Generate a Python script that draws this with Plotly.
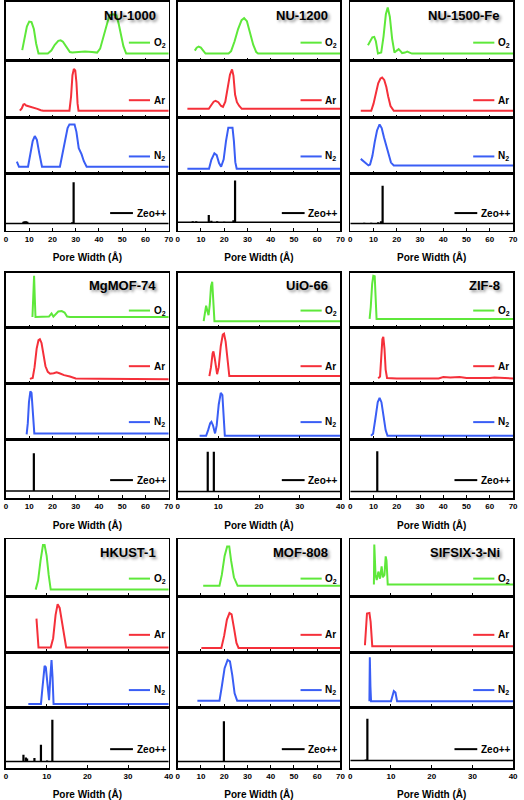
import plotly.graph_objects as go

# ---------------- data (relative PSD) ----------------
MATERIALS = ["NU-1000", "NU-1200", "NU-1500-Fe", "MgMOF-74", "UiO-66", "ZIF-8",
             "HKUST-1", "MOF-808", "SIFSIX-3-Ni"]
X_MAX = [70, 70, 70, 70, 40, 70, 40, 70, 40]
SERIES = ["O<sub>2</sub>", "Ar", "N<sub>2</sub>", "Zeo++"]

# NU-1000
NU1000_O2_X = [7.0, 8.0, 9.0, 10.0, 11.0, 12.0, 13.0, 14.0, 18.0, 19.5, 21.0, 22.5, 23.5, 24.5, 26.0, 27.5, 28.5,
               31.0, 34.0, 37.0, 39.2, 40.5, 42.0, 43.5, 44.5, 46.0, 47.5, 48.5, 49.5, 50.5, 51.7, 70.0]
NU1000_O2_Y = [0.07, 0.30, 0.55, 0.65, 0.64, 0.50, 0.20, 0.00, 0.00, 0.06, 0.18, 0.26, 0.27, 0.24, 0.13, 0.03, 0.02,
               0.03, 0.04, 0.03, 0.02, 0.10, 0.35, 0.65, 0.78, 0.80, 0.78, 0.60, 0.35, 0.15, 0.00, 0.00]
NU1000_AR_X = [6.0, 6.8, 7.5, 8.0, 8.7, 9.5, 10.5, 11.5, 12.5, 13.5, 15.0, 16.0, 27.3, 28.0, 28.6, 29.2, 29.8,
               30.3, 30.8, 31.2, 70.0]
NU1000_AR_Y = [0.0, 0.05, 0.13, 0.14, 0.11, 0.10, 0.08, 0.07, 0.05, 0.04, 0.01, 0.0, 0.0, 0.3, 0.75, 0.88, 0.85,
               0.6, 0.15, 0.0, 0.0]
NU1000_N2_X = [4.7, 5.6, 9.5, 10.5, 11.5, 12.4, 13.3, 14.3, 15.5, 23.2, 24.5, 25.5, 26.5, 27.3, 29.5, 30.3, 31.3,
               32.5, 33.5, 34.7, 70.0]
NU1000_N2_Y = [0.11, 0.0, 0.0, 0.25, 0.55, 0.66, 0.58, 0.3, 0.0, 0.0, 0.3, 0.6, 0.83, 0.91, 0.91, 0.75, 0.4,
               0.27, 0.12, 0.0, 0.0]
NU1000_ZEO_X = [7.5, 8.0, 8.7, 9.2, 28.5, 29.1]
NU1000_ZEO_H = [0.04, 0.05, 0.05, 0.04, 0.03, 0.87]
NU1000_ZEO_BASE = 0.0

# NU-1200
NU1200_O2_X = [7.4, 8.2, 9.0, 10.0, 11.0, 12.0, 21.9, 23.0, 24.5, 26.0, 27.5, 28.6, 29.8, 31.0, 32.5, 33.8, 34.6, 70.0]
NU1200_O2_Y = [0.06, 0.12, 0.14, 0.12, 0.06, 0.0, 0.0, 0.05, 0.25, 0.5, 0.68, 0.72, 0.66, 0.45, 0.18, 0.03, 0.0, 0.0]
NU1200_AR_X = [4.2, 13.4, 14.5, 15.5, 16.3, 17.5, 18.7, 19.5, 20.5, 21.5, 22.5, 23.4, 24.0, 24.7, 25.5, 26.5, 27.6, 70.0]
NU1200_AR_Y = [0.04, 0.04, 0.12, 0.19, 0.21, 0.18, 0.10, 0.08, 0.19, 0.49, 0.76, 0.87, 0.74, 0.34, 0.18, 0.10, 0.04, 0.04]
NU1200_N2_X = [4.2, 13.5, 14.5, 15.8, 16.8, 17.8, 18.7, 19.8, 20.8, 21.8, 23.6, 24.2, 24.8, 25.4, 70.0]
NU1200_N2_Y = [-0.04, -0.04, 0.15, 0.29, 0.25, 0.08, 0.0, 0.16, 0.55, 0.84, 0.84, 0.55, 0.1, -0.04, -0.04]
NU1200_ZEO_X = [6.5, 8.0, 13.4, 14.5, 17.0, 20.0, 24.0, 24.7]
NU1200_ZEO_H = [0.05, 0.05, 0.18, 0.06, 0.05, 0.04, 0.07, 0.91]
NU1200_ZEO_BASE = 0.03

# NU-1500-Fe
NU1500_O2_X = [7.6, 8.5, 9.5, 10.3, 11.0, 11.9, 13.3, 14.3, 15.3, 16.1, 17.0, 18.0, 19.0, 20.0, 20.8, 21.6, 22.3,
               23.5, 24.5, 25.5, 26.5, 70.0]
NU1500_O2_Y = [0.17, 0.25, 0.33, 0.34, 0.25, 0.0, 0.02, 0.35, 0.8, 0.94, 0.75, 0.3, 0.02, 0.06, 0.09, 0.05, 0.01,
               0.02, 0.04, 0.02, 0.0, 0.0]
NU1500_AR_X = [4.5, 9.0, 10.0, 11.0, 12.0, 13.0, 13.7, 14.6, 15.5, 16.3, 17.3, 18.7, 70.0]
NU1500_AR_Y = [0.0, 0.0, 0.15, 0.38, 0.58, 0.68, 0.7, 0.65, 0.5, 0.3, 0.1, 0.0, 0.0]
NU1500_N2_X = [4.5, 5.5, 6.5, 7.8, 8.5, 9.5, 10.5, 11.5, 12.6, 13.5, 14.5, 15.5, 16.5, 17.5, 18.7, 70.0]
NU1500_N2_Y = [0.17, 0.13, 0.08, 0.03, 0.05, 0.23, 0.53, 0.78, 0.91, 0.83, 0.63, 0.43, 0.23, 0.09, 0.03, 0.03]
NU1500_ZEO_X = [6.0, 9.0, 12.0, 13.2, 13.9]
NU1500_ZEO_H = [0.02, 0.02, 0.03, 0.05, 0.8]
NU1500_ZEO_BASE = 0.0

# MgMOF-74
MGMOF_O2_X = [11.4, 11.8, 12.1, 12.4, 12.7, 18.5, 19.6, 20.4, 21.3, 22.5, 24.0, 25.2, 26.3, 27.5, 70.0]
MGMOF_O2_Y = [0.08, 0.5, 0.98, 0.5, 0.08, 0.09, 0.16, 0.09, 0.14, 0.2, 0.21, 0.18, 0.09, 0.08, 0.08]
MGMOF_AR_X = [10.3, 11.5, 12.3, 13.2, 14.0, 14.6, 15.3, 16.2, 17.0, 18.0, 19.0, 20.5, 21.8, 23.0, 25.0, 27.5, 30.0,
              40.0, 70.0]
MGMOF_AR_Y = [-0.05, -0.03, 0.2, 0.6, 0.78, 0.8, 0.72, 0.45, 0.22, 0.1, 0.06, 0.07, 0.09, 0.07, 0.03, 0.0, -0.04,
              -0.05, -0.06]
MGMOF_N2_X = [8.9, 9.4, 9.9, 10.5, 11.0, 11.5, 11.9, 12.2, 70.0]
MGMOF_N2_Y = [-0.04, 0.2, 0.65, 0.88, 0.85, 0.5, 0.05, -0.02, -0.02]
MGMOF_ZEO_X = [12.0]
MGMOF_ZEO_H = [0.77]
MGMOF_ZEO_BASE = 0.0

# UiO-66
UIO_O2_X = [6.4, 6.7, 7.0, 7.3, 7.6, 7.9, 8.2, 8.5, 8.75, 9.05, 40.0]
UIO_O2_Y = [-0.01, 0.15, 0.33, 0.22, 0.12, 0.35, 0.75, 0.85, 0.5, -0.01, -0.01]
UIO_AR_X = [7.8, 8.2, 8.6, 8.8, 9.1, 9.4, 9.7, 10.1, 10.6, 11.1, 11.4, 11.8, 12.2, 12.7, 40.0]
UIO_AR_Y = [0.01, 0.2, 0.5, 0.54, 0.4, 0.15, 0.05, 0.2, 0.65, 0.9, 0.92, 0.75, 0.35, 0.01, 0.01]
UIO_N2_X = [5.4, 7.0, 7.5, 8.0, 8.3, 8.7, 9.2, 9.6, 10.1, 10.6, 11.0, 11.3, 11.6, 40.0]
UIO_N2_Y = [-0.07, -0.07, 0.05, 0.2, 0.23, 0.15, -0.02, 0.15, 0.6, 0.85, 0.8, 0.3, -0.07, -0.07]
UIO_ZEO_X = [7.4, 8.9]
UIO_ZEO_H = [0.8, 0.8]
UIO_ZEO_BASE = -0.01

# ZIF-8
ZIF_O2_X = [8.3, 8.8, 9.4, 9.9, 10.5, 10.9, 11.3, 70.0]
ZIF_O2_Y = [0.04, 0.3, 0.8, 0.98, 0.97, 0.5, 0.04, 0.04]
ZIF_AR_X = [12.0, 12.8, 13.3, 13.8, 14.2, 14.7, 15.2, 15.8, 20.0, 38.0, 40.0, 43.0, 47.0, 50.0, 60.0, 62.0, 70.0]
ZIF_AR_Y = [-0.04, 0.0, 0.4, 0.8, 0.85, 0.6, 0.15, -0.03, -0.04, -0.04, -0.01, -0.02, -0.01, -0.03, -0.03, -0.02, -0.04]
ZIF_N2_X = [8.9, 9.8, 10.8, 11.8, 12.6, 13.4, 14.3, 15.2, 16.0, 70.0]
ZIF_N2_Y = [-0.07, -0.03, 0.3, 0.65, 0.74, 0.65, 0.35, 0.05, -0.07, -0.07]
ZIF_ZEO_X = [11.6]
ZIF_ZEO_H = [0.81]
ZIF_ZEO_BASE = -0.01

# HKUST-1
HKUST_O2_X = [7.3, 7.9, 8.5, 9.1, 9.5, 10.0, 10.5, 11.0, 40.0]
HKUST_O2_Y = [-0.01, 0.18, 0.6, 0.93, 0.93, 0.7, 0.3, -0.01, -0.01]
HKUST_AR_X = [7.5, 7.8, 8.0, 11.0, 11.6, 12.2, 12.7, 13.2, 13.8, 14.3, 14.8, 40.0]
HKUST_AR_Y = [0.57, 0.2, -0.05, -0.05, 0.15, 0.65, 0.88, 0.8, 0.5, 0.2, -0.05, -0.05]
HKUST_N2_X = [5.5, 8.6, 9.0, 9.5, 9.8, 10.2, 10.6, 10.9, 11.2, 11.45, 11.7, 40.0]
HKUST_N2_Y = [-0.08, -0.08, 0.3, 0.75, 0.72, 0.35, 0.0, 0.5, 0.88, 0.5, -0.08, -0.08]
HKUST_ZEO_X = [4.3, 4.9, 5.2, 7.0, 8.6, 10.1, 11.4]
HKUST_ZEO_H = [0.11, 0.06, 0.04, 0.05, 0.31, 0.0, 0.80]
HKUST_ZEO_BASE = -0.02

# MOF-808
MOF808_O2_X = [11.0, 18.0, 19.0, 20.2, 21.3, 22.2, 23.0, 24.2, 25.8, 70.0]
MOF808_O2_Y = [0.07, 0.07, 0.3, 0.7, 0.9, 0.9, 0.6, 0.25, 0.07, 0.07]
MOF808_AR_X = [10.2, 18.8, 20.0, 21.2, 22.3, 23.2, 24.3, 25.3, 26.2, 70.0]
MOF808_AR_Y = [-0.06, -0.06, 0.2, 0.55, 0.69, 0.66, 0.35, 0.05, -0.06, -0.06]
MOF808_N2_X = [8.5, 18.0, 19.0, 20.2, 21.5, 22.5, 23.5, 24.5, 25.6, 70.0]
MOF808_N2_Y = [-0.01, -0.01, 0.3, 0.7, 0.88, 0.85, 0.55, 0.15, -0.01, -0.01]
MOF808_ZEO_X = [19.9]
MOF808_ZEO_H = [0.77]
MOF808_ZEO_BASE = -0.02

# SIFSIX-3-Ni
SIFSIX_O2_X = [5.8, 5.9, 6.2, 6.5, 6.9, 7.3, 7.7, 8.0, 8.4, 8.7, 8.9, 9.2, 40.0]
SIFSIX_O2_Y = [0.1, 0.94, 0.3, 0.19, 0.37, 0.22, 0.48, 0.25, 0.3, 0.69, 0.6, 0.1, 0.1]
SIFSIX_AR_X = [3.6, 3.8, 4.1, 4.7, 5.0, 5.4, 40.0]
SIFSIX_AR_Y = [0.0, 0.4, 0.68, 0.69, 0.5, -0.02, -0.02]
SIFSIX_N2_X = [4.7, 4.8, 4.95, 5.1, 10.0, 10.4, 10.7, 11.1, 11.5, 40.0]
SIFSIX_N2_Y = [-0.02, 0.94, 0.3, -0.02, -0.02, 0.15, 0.2, 0.17, -0.02, -0.02]
SIFSIX_ZEO_X = [3.8, 4.2]
SIFSIX_ZEO_H = [0.02, 0.82]
SIFSIX_ZEO_BASE = 0.0

CURVES = [
    [(NU1000_O2_X, NU1000_O2_Y), (NU1000_AR_X, NU1000_AR_Y), (NU1000_N2_X, NU1000_N2_Y)],
    [(NU1200_O2_X, NU1200_O2_Y), (NU1200_AR_X, NU1200_AR_Y), (NU1200_N2_X, NU1200_N2_Y)],
    [(NU1500_O2_X, NU1500_O2_Y), (NU1500_AR_X, NU1500_AR_Y), (NU1500_N2_X, NU1500_N2_Y)],
    [(MGMOF_O2_X, MGMOF_O2_Y), (MGMOF_AR_X, MGMOF_AR_Y), (MGMOF_N2_X, MGMOF_N2_Y)],
    [(UIO_O2_X, UIO_O2_Y), (UIO_AR_X, UIO_AR_Y), (UIO_N2_X, UIO_N2_Y)],
    [(ZIF_O2_X, ZIF_O2_Y), (ZIF_AR_X, ZIF_AR_Y), (ZIF_N2_X, ZIF_N2_Y)],
    [(HKUST_O2_X, HKUST_O2_Y), (HKUST_AR_X, HKUST_AR_Y), (HKUST_N2_X, HKUST_N2_Y)],
    [(MOF808_O2_X, MOF808_O2_Y), (MOF808_AR_X, MOF808_AR_Y), (MOF808_N2_X, MOF808_N2_Y)],
    [(SIFSIX_O2_X, SIFSIX_O2_Y), (SIFSIX_AR_X, SIFSIX_AR_Y), (SIFSIX_N2_X, SIFSIX_N2_Y)],
]
ZEO = [
    (NU1000_ZEO_X, NU1000_ZEO_H, NU1000_ZEO_BASE),
    (NU1200_ZEO_X, NU1200_ZEO_H, NU1200_ZEO_BASE),
    (NU1500_ZEO_X, NU1500_ZEO_H, NU1500_ZEO_BASE),
    (MGMOF_ZEO_X, MGMOF_ZEO_H, MGMOF_ZEO_BASE),
    (UIO_ZEO_X, UIO_ZEO_H, UIO_ZEO_BASE),
    (ZIF_ZEO_X, ZIF_ZEO_H, ZIF_ZEO_BASE),
    (HKUST_ZEO_X, HKUST_ZEO_H, HKUST_ZEO_BASE),
    (MOF808_ZEO_X, MOF808_ZEO_H, MOF808_ZEO_BASE),
    (SIFSIX_ZEO_X, SIFSIX_ZEO_H, SIFSIX_ZEO_BASE),
]

# ---------------- styling / layout ----------------
COLORS = ["#5ee83a", "#f5303a", "#3a5ef5", "#000000"]
FONT = "Liberation Sans, Arial, sans-serif"
W, H = 524, 800
COL_LEFT = [4, 178, 353]
PANEL_W = 165
ROW_EDGES = [[1, 60, 117, 173, 230], [272, 327, 383, 439, 498], [539, 596, 652, 707, 768]]
Y_RANGE = [-0.15, 1.05]

fig = go.Figure()
layout = dict(width=W, height=H, margin=dict(l=0, r=0, t=0, b=0),
              paper_bgcolor="white", plot_bgcolor="white", showlegend=False)
shapes, annotations = [], []

for b, name in enumerate(MATERIALS):
    r, c = divmod(b, 3)
    left = COL_LEFT[c]
    xdom = [left / W, (left + PANEL_W) / W]
    edges = ROW_EDGES[r]
    for s in range(4):
        k = b * 4 + s + 1
        xa = "x" if k == 1 else f"x{k}"
        ya = "y" if k == 1 else f"y{k}"
        top, bot = edges[s], edges[s + 1]
        ydom = [1 - bot / H, 1 - top / H]
        bottom_panel = (s == 3)
        xaxis = dict(
            domain=xdom, range=[0, X_MAX[b]], anchor=ya,
            showline=True, linecolor="black", linewidth=1.5, mirror=True,
            ticks="inside", ticklen=3, tickwidth=1, tickcolor="black",
            tick0=0, dtick=10, showgrid=False, zeroline=False,
            showticklabels=bottom_panel,
            tickfont=dict(family=FONT, size=8, color="black", weight="bold"),
        )
        if bottom_panel:
            xaxis["title"] = dict(text="Pore Width (Å)",
                                  font=dict(family=FONT, size=10, color="black", weight="bold"),
                                  standoff=11)
        layout["xaxis" if k == 1 else f"xaxis{k}"] = xaxis
        layout["yaxis" if k == 1 else f"yaxis{k}"] = dict(
            domain=ydom, range=Y_RANGE, anchor=xa,
            showline=True, linecolor="black", linewidth=1.5, mirror=True,
            ticks="", showticklabels=False, showgrid=False, zeroline=False,
        )
        if s < 3:
            xs, ys = CURVES[b][s]
            fig.add_trace(go.Scatter(x=xs, y=ys, mode="lines", xaxis=xa, yaxis=ya,
                                     line=dict(color=COLORS[s], width=2), hoverinfo="skip"))
            lx0, lx1, tx = 0.755, 0.885, 0.895
        else:
            zx, zh, base = ZEO[b]
            fig.add_trace(go.Scatter(x=[0, X_MAX[b]], y=[base, base], mode="lines",
                                     xaxis=xa, yaxis=ya, line=dict(color="black", width=1.5),
                                     hoverinfo="skip"))
            sx, sy = [], []
            for xv, hv in zip(zx, zh):
                sx += [xv, xv, None]
                sy += [base, hv, None]
            fig.add_trace(go.Scatter(x=sx, y=sy, mode="lines", xaxis=xa, yaxis=ya,
                                     line=dict(color="black", width=2.2), hoverinfo="skip"))
            lx0, lx1, tx = 0.64, 0.78, 0.79
        shapes.append(dict(type="line", xref=f"{xa} domain", yref=f"{ya} domain",
                           x0=lx0, x1=lx1, y0=0.31, y1=0.31,
                           line=dict(color=COLORS[s], width=2)))
        annotations.append(dict(text=SERIES[s], xref=f"{xa} domain", yref=f"{ya} domain",
                                x=tx, y=0.31, xanchor="left", yanchor="middle", showarrow=False,
                                font=dict(family=FONT, size=10, color="black", weight="bold")))
        if s == 0:
            annotations.append(dict(text=name, xref=f"{xa} domain", yref=f"{ya} domain",
                                    x=0.935, y=0.77, xanchor="right", yanchor="middle",
                                    showarrow=False,
                                    font=dict(family=FONT, size=13, color="black", weight="bold",
                                              shadow="2px 2px 3px rgba(0,0,0,0.45)")))

layout["shapes"] = shapes
layout["annotations"] = annotations
fig.update_layout(**layout)
fig.write_html("out.html", config={"displayModeBar": False, "staticPlot": True},
               post_script="document.body.style.margin='0';document.body.style.overflow='hidden';")
